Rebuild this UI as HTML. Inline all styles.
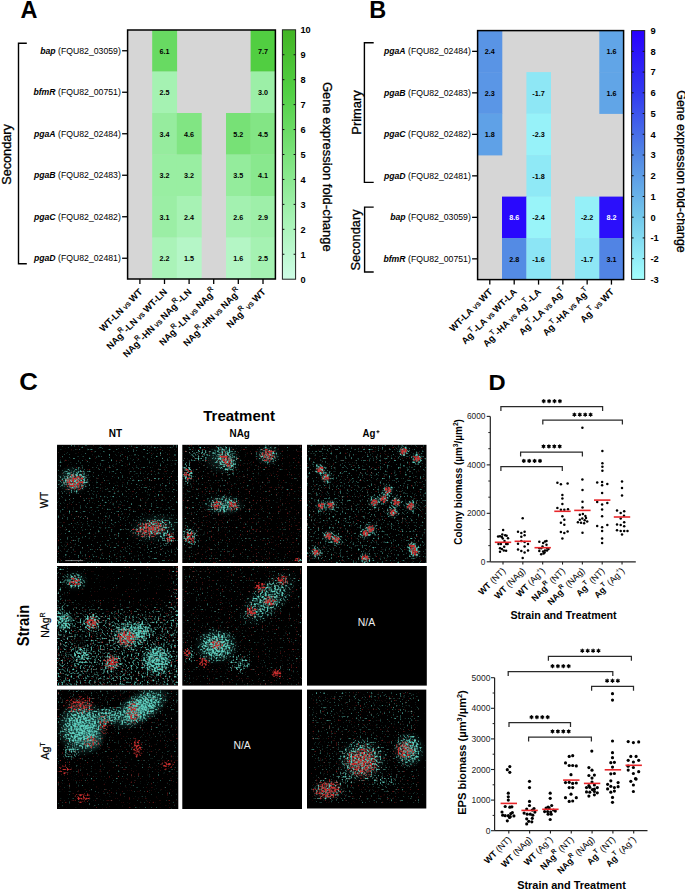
<!DOCTYPE html>
<html><head><meta charset="utf-8"><style>
html,body{margin:0;padding:0;background:#fff;}
svg{display:block;font-family:"Liberation Sans",sans-serif;}
</style></head><body>
<svg width="685" height="893" viewBox="0 0 685 893">
<rect width="685" height="893" fill="#fff"/>
<rect x="127.60" y="30.00" width="147.80" height="249.00" fill="#d6d6d6"/>
<rect x="152.20" y="30.00" width="24.90" height="41.80" fill="#68da62"/>
<rect x="250.60" y="30.00" width="25.10" height="41.80" fill="#51ce41"/>
<rect x="152.20" y="71.50" width="24.90" height="41.80" fill="#a5f2b2"/>
<rect x="250.60" y="71.50" width="25.10" height="41.80" fill="#9cefa7"/>
<rect x="152.20" y="113.00" width="24.90" height="41.80" fill="#96ec9e"/>
<rect x="176.80" y="113.00" width="24.90" height="41.80" fill="#81e583"/>
<rect x="226.00" y="113.00" width="24.90" height="41.80" fill="#77e176"/>
<rect x="250.60" y="113.00" width="25.10" height="41.80" fill="#83e585"/>
<rect x="152.20" y="154.50" width="24.90" height="41.80" fill="#99eea2"/>
<rect x="176.80" y="154.50" width="24.90" height="41.80" fill="#99eea2"/>
<rect x="226.00" y="154.50" width="24.90" height="41.80" fill="#94ec9c"/>
<rect x="250.60" y="154.50" width="25.10" height="41.80" fill="#89e88e"/>
<rect x="152.20" y="196.00" width="24.90" height="41.80" fill="#9beea5"/>
<rect x="176.80" y="196.00" width="24.90" height="41.80" fill="#a7f2b4"/>
<rect x="226.00" y="196.00" width="24.90" height="41.80" fill="#a3f1b0"/>
<rect x="250.60" y="196.00" width="25.10" height="41.80" fill="#9eefa9"/>
<rect x="152.20" y="237.50" width="24.90" height="41.80" fill="#aaf3b8"/>
<rect x="176.80" y="237.50" width="24.90" height="41.80" fill="#b5f6c7"/>
<rect x="226.00" y="237.50" width="24.90" height="41.80" fill="#b4f6c5"/>
<rect x="250.60" y="237.50" width="25.10" height="41.80" fill="#a5f2b2"/>
<text x="164.50" y="53.65" font-size="7.2" font-weight="bold" text-anchor="middle" fill="#000" >6.1</text>
<text x="263.00" y="53.65" font-size="7.2" font-weight="bold" text-anchor="middle" fill="#000" >7.7</text>
<text x="164.50" y="95.15" font-size="7.2" font-weight="bold" text-anchor="middle" fill="#000" >2.5</text>
<text x="263.00" y="95.15" font-size="7.2" font-weight="bold" text-anchor="middle" fill="#000" >3.0</text>
<text x="164.50" y="136.65" font-size="7.2" font-weight="bold" text-anchor="middle" fill="#000" >3.4</text>
<text x="189.10" y="136.65" font-size="7.2" font-weight="bold" text-anchor="middle" fill="#000" >4.6</text>
<text x="238.30" y="136.65" font-size="7.2" font-weight="bold" text-anchor="middle" fill="#000" >5.2</text>
<text x="263.00" y="136.65" font-size="7.2" font-weight="bold" text-anchor="middle" fill="#000" >4.5</text>
<text x="164.50" y="178.15" font-size="7.2" font-weight="bold" text-anchor="middle" fill="#000" >3.2</text>
<text x="189.10" y="178.15" font-size="7.2" font-weight="bold" text-anchor="middle" fill="#000" >3.2</text>
<text x="238.30" y="178.15" font-size="7.2" font-weight="bold" text-anchor="middle" fill="#000" >3.5</text>
<text x="263.00" y="178.15" font-size="7.2" font-weight="bold" text-anchor="middle" fill="#000" >4.1</text>
<text x="164.50" y="219.65" font-size="7.2" font-weight="bold" text-anchor="middle" fill="#000" >3.1</text>
<text x="189.10" y="219.65" font-size="7.2" font-weight="bold" text-anchor="middle" fill="#000" >2.4</text>
<text x="238.30" y="219.65" font-size="7.2" font-weight="bold" text-anchor="middle" fill="#000" >2.6</text>
<text x="263.00" y="219.65" font-size="7.2" font-weight="bold" text-anchor="middle" fill="#000" >2.9</text>
<text x="164.50" y="261.15" font-size="7.2" font-weight="bold" text-anchor="middle" fill="#000" >2.2</text>
<text x="189.10" y="261.15" font-size="7.2" font-weight="bold" text-anchor="middle" fill="#000" >1.5</text>
<text x="238.30" y="261.15" font-size="7.2" font-weight="bold" text-anchor="middle" fill="#000" >1.6</text>
<text x="263.00" y="261.15" font-size="7.2" font-weight="bold" text-anchor="middle" fill="#000" >2.5</text>
<rect x="127.60" y="30.00" width="147.80" height="249.00" fill="none" stroke="#000" stroke-width="1.5"/>
<line x1="122.10" y1="50.75" x2="127.60" y2="50.75" stroke="#000" stroke-width="1.3"/>
<text x="120.80" y="53.85" font-size="8.7" text-anchor="end"><tspan font-weight="bold" font-style="italic">bap</tspan> (FQU82_03059)</text>
<line x1="122.10" y1="92.25" x2="127.60" y2="92.25" stroke="#000" stroke-width="1.3"/>
<text x="120.80" y="95.35" font-size="8.7" text-anchor="end"><tspan font-weight="bold" font-style="italic">bfmR</tspan> (FQU82_00751)</text>
<line x1="122.10" y1="133.75" x2="127.60" y2="133.75" stroke="#000" stroke-width="1.3"/>
<text x="120.80" y="136.85" font-size="8.7" text-anchor="end"><tspan font-weight="bold" font-style="italic">pgaA</tspan> (FQU82_02484)</text>
<line x1="122.10" y1="175.25" x2="127.60" y2="175.25" stroke="#000" stroke-width="1.3"/>
<text x="120.80" y="178.35" font-size="8.7" text-anchor="end"><tspan font-weight="bold" font-style="italic">pgaB</tspan> (FQU82_02483)</text>
<line x1="122.10" y1="216.75" x2="127.60" y2="216.75" stroke="#000" stroke-width="1.3"/>
<text x="120.80" y="219.85" font-size="8.7" text-anchor="end"><tspan font-weight="bold" font-style="italic">pgaC</tspan> (FQU82_02482)</text>
<line x1="122.10" y1="258.25" x2="127.60" y2="258.25" stroke="#000" stroke-width="1.3"/>
<text x="120.80" y="261.35" font-size="8.7" text-anchor="end"><tspan font-weight="bold" font-style="italic">pgaD</tspan> (FQU82_02481)</text>
<line x1="139.90" y1="279.00" x2="139.90" y2="284.00" stroke="#000" stroke-width="1.3"/>
<line x1="164.50" y1="279.00" x2="164.50" y2="284.00" stroke="#000" stroke-width="1.3"/>
<line x1="189.10" y1="279.00" x2="189.10" y2="284.00" stroke="#000" stroke-width="1.3"/>
<line x1="213.70" y1="279.00" x2="213.70" y2="284.00" stroke="#000" stroke-width="1.3"/>
<line x1="238.30" y1="279.00" x2="238.30" y2="284.00" stroke="#000" stroke-width="1.3"/>
<line x1="263.00" y1="279.00" x2="263.00" y2="284.00" stroke="#000" stroke-width="1.3"/>
<defs><linearGradient id="g60" x1="0" y1="1" x2="0" y2="0"><stop offset="0.0000" stop-color="#cefde6"/><stop offset="0.2500" stop-color="#a5f2b2"/><stop offset="0.5000" stop-color="#7ae27a"/><stop offset="0.7500" stop-color="#52d044"/><stop offset="1.0000" stop-color="#42b424"/></linearGradient></defs>
<rect x="282.4" y="29.8" width="13.200000000000045" height="249.39999999999998" fill="url(#g60)" stroke="#222" stroke-width="1"/>
<text x="300.40" y="282.60" font-size="9.2" font-weight="bold" text-anchor="start" fill="#000" >0</text>
<line x1="282.40" y1="254.26" x2="284.40" y2="254.26" stroke="#111" stroke-width="1"/>
<line x1="293.60" y1="254.26" x2="295.60" y2="254.26" stroke="#111" stroke-width="1"/>
<text x="300.40" y="257.66" font-size="9.2" font-weight="bold" text-anchor="start" fill="#000" >1</text>
<line x1="282.40" y1="229.32" x2="284.40" y2="229.32" stroke="#111" stroke-width="1"/>
<line x1="293.60" y1="229.32" x2="295.60" y2="229.32" stroke="#111" stroke-width="1"/>
<text x="300.40" y="232.72" font-size="9.2" font-weight="bold" text-anchor="start" fill="#000" >2</text>
<line x1="282.40" y1="204.38" x2="284.40" y2="204.38" stroke="#111" stroke-width="1"/>
<line x1="293.60" y1="204.38" x2="295.60" y2="204.38" stroke="#111" stroke-width="1"/>
<text x="300.40" y="207.78" font-size="9.2" font-weight="bold" text-anchor="start" fill="#000" >3</text>
<line x1="282.40" y1="179.44" x2="284.40" y2="179.44" stroke="#111" stroke-width="1"/>
<line x1="293.60" y1="179.44" x2="295.60" y2="179.44" stroke="#111" stroke-width="1"/>
<text x="300.40" y="182.84" font-size="9.2" font-weight="bold" text-anchor="start" fill="#000" >4</text>
<line x1="282.40" y1="154.50" x2="284.40" y2="154.50" stroke="#111" stroke-width="1"/>
<line x1="293.60" y1="154.50" x2="295.60" y2="154.50" stroke="#111" stroke-width="1"/>
<text x="300.40" y="157.90" font-size="9.2" font-weight="bold" text-anchor="start" fill="#000" >5</text>
<line x1="282.40" y1="129.56" x2="284.40" y2="129.56" stroke="#111" stroke-width="1"/>
<line x1="293.60" y1="129.56" x2="295.60" y2="129.56" stroke="#111" stroke-width="1"/>
<text x="300.40" y="132.96" font-size="9.2" font-weight="bold" text-anchor="start" fill="#000" >6</text>
<line x1="282.40" y1="104.62" x2="284.40" y2="104.62" stroke="#111" stroke-width="1"/>
<line x1="293.60" y1="104.62" x2="295.60" y2="104.62" stroke="#111" stroke-width="1"/>
<text x="300.40" y="108.02" font-size="9.2" font-weight="bold" text-anchor="start" fill="#000" >7</text>
<line x1="282.40" y1="79.68" x2="284.40" y2="79.68" stroke="#111" stroke-width="1"/>
<line x1="293.60" y1="79.68" x2="295.60" y2="79.68" stroke="#111" stroke-width="1"/>
<text x="300.40" y="83.08" font-size="9.2" font-weight="bold" text-anchor="start" fill="#000" >8</text>
<line x1="282.40" y1="54.74" x2="284.40" y2="54.74" stroke="#111" stroke-width="1"/>
<line x1="293.60" y1="54.74" x2="295.60" y2="54.74" stroke="#111" stroke-width="1"/>
<text x="300.40" y="58.14" font-size="9.2" font-weight="bold" text-anchor="start" fill="#000" >9</text>
<text x="300.40" y="33.20" font-size="9.2" font-weight="bold" text-anchor="start" fill="#000" >10</text>
<text transform="translate(322.90,81.90) rotate(90)" font-size="12.8" stroke="#000" stroke-width="0.3" textLength="169.9" lengthAdjust="spacingAndGlyphs">Gene expression fold-change</text>
<rect x="477.60" y="30.60" width="146.00" height="249.00" fill="#d6d6d6"/>
<rect x="477.60" y="30.60" width="24.70" height="41.80" fill="#5994e5"/>
<rect x="599.30" y="30.60" width="24.60" height="41.80" fill="#61a5e7"/>
<rect x="477.60" y="72.10" width="24.70" height="41.80" fill="#5a96e6"/>
<rect x="526.40" y="72.10" width="24.60" height="41.80" fill="#8ee7f5"/>
<rect x="599.30" y="72.10" width="24.60" height="41.80" fill="#61a5e7"/>
<rect x="477.60" y="113.60" width="24.70" height="41.80" fill="#5fa1e7"/>
<rect x="526.40" y="113.60" width="24.60" height="41.80" fill="#97f2f9"/>
<rect x="526.40" y="155.10" width="24.60" height="41.80" fill="#8fe9f6"/>
<rect x="502.00" y="196.60" width="24.70" height="41.80" fill="#2908fd"/>
<rect x="526.40" y="196.60" width="24.60" height="41.80" fill="#99f4f9"/>
<rect x="575.00" y="196.60" width="24.60" height="41.80" fill="#95f0f8"/>
<rect x="599.30" y="196.60" width="24.60" height="41.80" fill="#2b0ffb"/>
<rect x="502.00" y="238.10" width="24.70" height="41.80" fill="#548be4"/>
<rect x="526.40" y="238.10" width="24.60" height="41.80" fill="#8ce5f5"/>
<rect x="575.00" y="238.10" width="24.60" height="41.80" fill="#8ee7f5"/>
<rect x="599.30" y="238.10" width="24.60" height="41.80" fill="#5184e4"/>
<text x="489.80" y="54.25" font-size="7.2" font-weight="bold" text-anchor="middle" fill="#000" >2.4</text>
<text x="611.45" y="54.25" font-size="7.2" font-weight="bold" text-anchor="middle" fill="#000" >1.6</text>
<text x="489.80" y="95.75" font-size="7.2" font-weight="bold" text-anchor="middle" fill="#000" >2.3</text>
<text x="538.55" y="95.75" font-size="7.2" font-weight="bold" text-anchor="middle" fill="#000" >-1.7</text>
<text x="611.45" y="95.75" font-size="7.2" font-weight="bold" text-anchor="middle" fill="#000" >1.6</text>
<text x="489.80" y="137.25" font-size="7.2" font-weight="bold" text-anchor="middle" fill="#000" >1.8</text>
<text x="538.55" y="137.25" font-size="7.2" font-weight="bold" text-anchor="middle" fill="#000" >-2.3</text>
<text x="538.55" y="178.75" font-size="7.2" font-weight="bold" text-anchor="middle" fill="#000" >-1.8</text>
<text x="514.20" y="220.25" font-size="7.2" font-weight="bold" text-anchor="middle" fill="#fff" >8.6</text>
<text x="538.55" y="220.25" font-size="7.2" font-weight="bold" text-anchor="middle" fill="#000" >-2.4</text>
<text x="587.15" y="220.25" font-size="7.2" font-weight="bold" text-anchor="middle" fill="#000" >-2.2</text>
<text x="611.45" y="220.25" font-size="7.2" font-weight="bold" text-anchor="middle" fill="#fff" >8.2</text>
<text x="514.20" y="261.75" font-size="7.2" font-weight="bold" text-anchor="middle" fill="#000" >2.8</text>
<text x="538.55" y="261.75" font-size="7.2" font-weight="bold" text-anchor="middle" fill="#000" >-1.6</text>
<text x="587.15" y="261.75" font-size="7.2" font-weight="bold" text-anchor="middle" fill="#000" >-1.7</text>
<text x="611.45" y="261.75" font-size="7.2" font-weight="bold" text-anchor="middle" fill="#000" >3.1</text>
<rect x="477.60" y="30.60" width="146.00" height="249.00" fill="none" stroke="#000" stroke-width="1.5"/>
<line x1="472.10" y1="51.35" x2="477.60" y2="51.35" stroke="#000" stroke-width="1.3"/>
<text x="470.80" y="54.45" font-size="8.7" text-anchor="end"><tspan font-weight="bold" font-style="italic">pgaA</tspan> (FQU82_02484)</text>
<line x1="472.10" y1="92.85" x2="477.60" y2="92.85" stroke="#000" stroke-width="1.3"/>
<text x="470.80" y="95.95" font-size="8.7" text-anchor="end"><tspan font-weight="bold" font-style="italic">pgaB</tspan> (FQU82_02483)</text>
<line x1="472.10" y1="134.35" x2="477.60" y2="134.35" stroke="#000" stroke-width="1.3"/>
<text x="470.80" y="137.45" font-size="8.7" text-anchor="end"><tspan font-weight="bold" font-style="italic">pgaC</tspan> (FQU82_02482)</text>
<line x1="472.10" y1="175.85" x2="477.60" y2="175.85" stroke="#000" stroke-width="1.3"/>
<text x="470.80" y="178.95" font-size="8.7" text-anchor="end"><tspan font-weight="bold" font-style="italic">pgaD</tspan> (FQU82_02481)</text>
<line x1="472.10" y1="217.35" x2="477.60" y2="217.35" stroke="#000" stroke-width="1.3"/>
<text x="470.80" y="220.45" font-size="8.7" text-anchor="end"><tspan font-weight="bold" font-style="italic">bap</tspan> (FQU82_03059)</text>
<line x1="472.10" y1="258.85" x2="477.60" y2="258.85" stroke="#000" stroke-width="1.3"/>
<text x="470.80" y="261.95" font-size="8.7" text-anchor="end"><tspan font-weight="bold" font-style="italic">bfmR</tspan> (FQU82_00751)</text>
<line x1="489.80" y1="279.60" x2="489.80" y2="284.60" stroke="#000" stroke-width="1.3"/>
<line x1="514.20" y1="279.60" x2="514.20" y2="284.60" stroke="#000" stroke-width="1.3"/>
<line x1="538.55" y1="279.60" x2="538.55" y2="284.60" stroke="#000" stroke-width="1.3"/>
<line x1="562.85" y1="279.60" x2="562.85" y2="284.60" stroke="#000" stroke-width="1.3"/>
<line x1="587.15" y1="279.60" x2="587.15" y2="284.60" stroke="#000" stroke-width="1.3"/>
<line x1="611.45" y1="279.60" x2="611.45" y2="284.60" stroke="#000" stroke-width="1.3"/>
<defs><linearGradient id="g144" x1="0" y1="1" x2="0" y2="0"><stop offset="0.0000" stop-color="#a2fffd"/><stop offset="0.2500" stop-color="#73c8eb"/><stop offset="0.5000" stop-color="#5287e4"/><stop offset="0.7500" stop-color="#323af0"/><stop offset="1.0000" stop-color="#2800ff"/></linearGradient></defs>
<rect x="631.6" y="30.6" width="13.100000000000023" height="248.79999999999998" fill="url(#g144)" stroke="#222" stroke-width="1"/>
<text x="650.50" y="282.80" font-size="9.4" font-weight="bold" text-anchor="start" fill="#000" >-3</text>
<line x1="631.60" y1="258.67" x2="633.60" y2="258.67" stroke="#111" stroke-width="1"/>
<line x1="642.70" y1="258.67" x2="644.70" y2="258.67" stroke="#111" stroke-width="1"/>
<text x="650.50" y="262.07" font-size="9.4" font-weight="bold" text-anchor="start" fill="#000" >-2</text>
<line x1="631.60" y1="237.93" x2="633.60" y2="237.93" stroke="#111" stroke-width="1"/>
<line x1="642.70" y1="237.93" x2="644.70" y2="237.93" stroke="#111" stroke-width="1"/>
<text x="650.50" y="241.33" font-size="9.4" font-weight="bold" text-anchor="start" fill="#000" >-1</text>
<line x1="631.60" y1="217.20" x2="633.60" y2="217.20" stroke="#111" stroke-width="1"/>
<line x1="642.70" y1="217.20" x2="644.70" y2="217.20" stroke="#111" stroke-width="1"/>
<text x="650.50" y="220.60" font-size="9.4" font-weight="bold" text-anchor="start" fill="#000" >0</text>
<line x1="631.60" y1="196.47" x2="633.60" y2="196.47" stroke="#111" stroke-width="1"/>
<line x1="642.70" y1="196.47" x2="644.70" y2="196.47" stroke="#111" stroke-width="1"/>
<text x="650.50" y="199.87" font-size="9.4" font-weight="bold" text-anchor="start" fill="#000" >1</text>
<line x1="631.60" y1="175.73" x2="633.60" y2="175.73" stroke="#111" stroke-width="1"/>
<line x1="642.70" y1="175.73" x2="644.70" y2="175.73" stroke="#111" stroke-width="1"/>
<text x="650.50" y="179.13" font-size="9.4" font-weight="bold" text-anchor="start" fill="#000" >2</text>
<line x1="631.60" y1="155.00" x2="633.60" y2="155.00" stroke="#111" stroke-width="1"/>
<line x1="642.70" y1="155.00" x2="644.70" y2="155.00" stroke="#111" stroke-width="1"/>
<text x="650.50" y="158.40" font-size="9.4" font-weight="bold" text-anchor="start" fill="#000" >3</text>
<line x1="631.60" y1="134.27" x2="633.60" y2="134.27" stroke="#111" stroke-width="1"/>
<line x1="642.70" y1="134.27" x2="644.70" y2="134.27" stroke="#111" stroke-width="1"/>
<text x="650.50" y="137.67" font-size="9.4" font-weight="bold" text-anchor="start" fill="#000" >4</text>
<line x1="631.60" y1="113.53" x2="633.60" y2="113.53" stroke="#111" stroke-width="1"/>
<line x1="642.70" y1="113.53" x2="644.70" y2="113.53" stroke="#111" stroke-width="1"/>
<text x="650.50" y="116.93" font-size="9.4" font-weight="bold" text-anchor="start" fill="#000" >5</text>
<line x1="631.60" y1="92.80" x2="633.60" y2="92.80" stroke="#111" stroke-width="1"/>
<line x1="642.70" y1="92.80" x2="644.70" y2="92.80" stroke="#111" stroke-width="1"/>
<text x="650.50" y="96.20" font-size="9.4" font-weight="bold" text-anchor="start" fill="#000" >6</text>
<line x1="631.60" y1="72.07" x2="633.60" y2="72.07" stroke="#111" stroke-width="1"/>
<line x1="642.70" y1="72.07" x2="644.70" y2="72.07" stroke="#111" stroke-width="1"/>
<text x="650.50" y="75.47" font-size="9.4" font-weight="bold" text-anchor="start" fill="#000" >7</text>
<line x1="631.60" y1="51.33" x2="633.60" y2="51.33" stroke="#111" stroke-width="1"/>
<line x1="642.70" y1="51.33" x2="644.70" y2="51.33" stroke="#111" stroke-width="1"/>
<text x="650.50" y="54.73" font-size="9.4" font-weight="bold" text-anchor="start" fill="#000" >8</text>
<text x="650.50" y="34.00" font-size="9.4" font-weight="bold" text-anchor="start" fill="#000" >9</text>
<text transform="translate(676.60,90.20) rotate(90)" font-size="12.8" stroke="#000" stroke-width="0.3" textLength="162.6" lengthAdjust="spacingAndGlyphs">Gene expression fold-change</text>
<path d="M26.80,43.30 H18.50 V263.70 H26.80" fill="none" stroke="#000" stroke-width="1.4"/>
<text transform="translate(11.2,154.5) rotate(-90)" font-size="12.7" stroke="#000" stroke-width="0.3" text-anchor="middle">Secondary</text>
<path d="M373.70,42.70 H364.40 V182.40 H373.70" fill="none" stroke="#000" stroke-width="1.4"/>
<text transform="translate(360.8,112.5) rotate(-90)" font-size="12.9" stroke="#000" stroke-width="0.3" text-anchor="middle">Primary</text>
<path d="M373.70,207.10 H364.60 V272.00 H373.70" fill="none" stroke="#000" stroke-width="1.4"/>
<text transform="translate(360.4,240) rotate(-90)" font-size="12.8" stroke="#000" stroke-width="0.3" text-anchor="middle">Secondary</text>
<text x="20.60" y="17.90" font-size="23.5" font-weight="bold" text-anchor="start" fill="#000" >A</text>
<text x="369.30" y="17.90" font-size="23.5" font-weight="bold" text-anchor="start" fill="#000" >B</text>
<text transform="translate(19.3,390.1) scale(1.1,1)" font-size="23.4" font-weight="bold">C</text>
<text transform="translate(488.6,389.6) scale(1.06,1)" font-size="22.4" font-weight="bold">D</text>
<text transform="translate(143.10,292.50) rotate(-45)" font-size="9.3" text-anchor="end"><tspan font-weight="bold">WT-LN</tspan><tspan font-size="7.91" stroke="#000" stroke-width="0.2"> vs </tspan><tspan font-weight="bold">WT</tspan></text>
<text transform="translate(493.00,292.50) rotate(-45)" font-size="9.3" text-anchor="end"><tspan font-weight="bold">WT-LA</tspan><tspan font-size="7.91" stroke="#000" stroke-width="0.2"> vs </tspan><tspan font-weight="bold">WT</tspan></text>
<text transform="translate(167.70,292.50) rotate(-45)" font-size="9.3" text-anchor="end"><tspan font-weight="bold">NAg</tspan><tspan font-size="6.98" stroke="#000" stroke-width="0.25" dy="-4.65">R</tspan><tspan font-weight="bold" dy="4.65">-LN</tspan><tspan font-size="7.91" stroke="#000" stroke-width="0.2"> vs </tspan><tspan font-weight="bold">WT-LN</tspan></text>
<text transform="translate(517.40,292.50) rotate(-45)" font-size="9.3" text-anchor="end"><tspan font-weight="bold">Ag</tspan><tspan font-size="6.98" stroke="#000" stroke-width="0.25" dy="-4.65">T</tspan><tspan font-weight="bold" dy="4.65">-LA</tspan><tspan font-size="7.91" stroke="#000" stroke-width="0.2"> vs </tspan><tspan font-weight="bold">WT-LA</tspan></text>
<text transform="translate(192.30,292.50) rotate(-45)" font-size="9.3" text-anchor="end"><tspan font-weight="bold">NAg</tspan><tspan font-size="6.98" stroke="#000" stroke-width="0.25" dy="-4.65">R</tspan><tspan font-weight="bold" dy="4.65">-HN</tspan><tspan font-size="7.91" stroke="#000" stroke-width="0.2"> vs </tspan><tspan font-weight="bold">NAg</tspan><tspan font-size="6.98" stroke="#000" stroke-width="0.25" dy="-4.65">R</tspan><tspan font-weight="bold" dy="4.65">-LN</tspan></text>
<text transform="translate(541.75,292.50) rotate(-45)" font-size="9.3" text-anchor="end"><tspan font-weight="bold">Ag</tspan><tspan font-size="6.98" stroke="#000" stroke-width="0.25" dy="-4.65">T</tspan><tspan font-weight="bold" dy="4.65">-HA</tspan><tspan font-size="7.91" stroke="#000" stroke-width="0.2"> vs </tspan><tspan font-weight="bold">Ag</tspan><tspan font-size="6.98" stroke="#000" stroke-width="0.25" dy="-4.65">T</tspan><tspan font-weight="bold" dy="4.65">-LA</tspan></text>
<text transform="translate(216.90,292.50) rotate(-45)" font-size="9.3" text-anchor="end"><tspan font-weight="bold">NAg</tspan><tspan font-size="6.98" stroke="#000" stroke-width="0.25" dy="-4.65">R</tspan><tspan font-weight="bold" dy="4.65">-LN</tspan><tspan font-size="7.91" stroke="#000" stroke-width="0.2"> vs </tspan><tspan font-weight="bold">NAg</tspan><tspan font-size="6.98" stroke="#000" stroke-width="0.25" dy="-4.65">R</tspan></text>
<text transform="translate(566.05,292.50) rotate(-45)" font-size="9.3" text-anchor="end"><tspan font-weight="bold">Ag</tspan><tspan font-size="6.98" stroke="#000" stroke-width="0.25" dy="-4.65">T</tspan><tspan font-weight="bold" dy="4.65">-LA</tspan><tspan font-size="7.91" stroke="#000" stroke-width="0.2"> vs </tspan><tspan font-weight="bold">Ag</tspan><tspan font-size="6.98" stroke="#000" stroke-width="0.25" dy="-4.65">T</tspan></text>
<text transform="translate(241.50,292.50) rotate(-45)" font-size="9.3" text-anchor="end"><tspan font-weight="bold">NAg</tspan><tspan font-size="6.98" stroke="#000" stroke-width="0.25" dy="-4.65">R</tspan><tspan font-weight="bold" dy="4.65">-HN</tspan><tspan font-size="7.91" stroke="#000" stroke-width="0.2"> vs </tspan><tspan font-weight="bold">NAg</tspan><tspan font-size="6.98" stroke="#000" stroke-width="0.25" dy="-4.65">R</tspan></text>
<text transform="translate(590.35,292.50) rotate(-45)" font-size="9.3" text-anchor="end"><tspan font-weight="bold">Ag</tspan><tspan font-size="6.98" stroke="#000" stroke-width="0.25" dy="-4.65">T</tspan><tspan font-weight="bold" dy="4.65">-HA</tspan><tspan font-size="7.91" stroke="#000" stroke-width="0.2"> vs </tspan><tspan font-weight="bold">Ag</tspan><tspan font-size="6.98" stroke="#000" stroke-width="0.25" dy="-4.65">T</tspan></text>
<text transform="translate(266.20,292.50) rotate(-45)" font-size="9.3" text-anchor="end"><tspan font-weight="bold">NAg</tspan><tspan font-size="6.98" stroke="#000" stroke-width="0.25" dy="-4.65">R</tspan><tspan font-size="7.91" stroke="#000" stroke-width="0.2" dy="4.65"> vs </tspan><tspan font-weight="bold">WT</tspan></text>
<text transform="translate(614.65,292.50) rotate(-45)" font-size="9.3" text-anchor="end"><tspan font-weight="bold">Ag</tspan><tspan font-size="6.98" stroke="#000" stroke-width="0.25" dy="-4.65">T</tspan><tspan font-size="7.91" stroke="#000" stroke-width="0.2" dy="4.65"> vs </tspan><tspan font-weight="bold">WT</tspan></text>

<defs><filter id="soft" x="-5%" y="-5%" width="110%" height="110%"><feGaussianBlur stdDeviation="0.35"/></filter></defs>
<defs>
<filter id="spkC" x="0" y="0" width="100%" height="100%" color-interpolation-filters="sRGB">
  <feTurbulence type="fractalNoise" baseFrequency="0.55" numOctaves="1" seed="3" result="n"/>
  <feColorMatrix in="n" type="matrix" values="0 0 0 0 0  0 0 0 0 0  0 0 0 0 0  1 0 0 0 0" result="na"/>
  <feComposite in="SourceGraphic" in2="na" operator="arithmetic" k1="0" k2="0.45" k3="1" k4="-0.72" result="sum"/>
  <feComponentTransfer in="sum" result="th"><feFuncA type="linear" slope="4" intercept="0"/></feComponentTransfer>
  <feFlood flood-color="#5ccbbb"/>
  <feComposite in2="th" operator="in"/><feGaussianBlur stdDeviation="0.3"/>
</filter>
<filter id="spkR" x="0" y="0" width="100%" height="100%" color-interpolation-filters="sRGB">
  <feTurbulence type="fractalNoise" baseFrequency="0.55" numOctaves="1" seed="11" result="n"/>
  <feColorMatrix in="n" type="matrix" values="0 0 0 0 0  0 0 0 0 0  0 0 0 0 0  1 0 0 0 0" result="na"/>
  <feComposite in="SourceGraphic" in2="na" operator="arithmetic" k1="0" k2="0.45" k3="1" k4="-0.72" result="sum"/>
  <feComponentTransfer in="sum" result="th"><feFuncA type="linear" slope="4" intercept="0"/></feComponentTransfer>
  <feFlood flood-color="#cc2e2e"/>
  <feComposite in2="th" operator="in"/><feGaussianBlur stdDeviation="0.3"/>
</filter>
<radialGradient id="bk"><stop offset="0" stop-color="#000" stop-opacity="0.9"/><stop offset="0.6" stop-color="#000" stop-opacity="0.6"/><stop offset="1" stop-color="#000" stop-opacity="0"/></radialGradient>
<radialGradient id="wg"><stop offset="0" stop-color="#fff" stop-opacity="1"/><stop offset="0.5" stop-color="#fff" stop-opacity="0.8"/><stop offset="1" stop-color="#fff" stop-opacity="0"/></radialGradient>
<radialGradient id="cg"><stop offset="0" stop-color="#3aa096" stop-opacity="1"/><stop offset="0.6" stop-color="#3aa096" stop-opacity="0.5"/><stop offset="1" stop-color="#3aa096" stop-opacity="0"/></radialGradient>
<radialGradient id="rgl"><stop offset="0" stop-color="#c03030" stop-opacity="1"/><stop offset="0.6" stop-color="#c03030" stop-opacity="0.5"/><stop offset="1" stop-color="#c03030" stop-opacity="0"/></radialGradient>
</defs>
<clipPath id="clip00"><rect x="57.0" y="444.8" width="121.0" height="118.2"/></clipPath>
<rect x="57.0" y="444.8" width="121.0" height="118.2" fill="#000"/>
<g clip-path="url(#clip00)">
<ellipse cx="73" cy="480" rx="18" ry="15" fill="url(#cg)" opacity="0.3"/>
<ellipse cx="154" cy="528" rx="27" ry="15" fill="url(#cg)" opacity="0.22" transform="rotate(-10 154 528)"/>
<ellipse cx="75" cy="482" rx="11" ry="9" fill="url(#rgl)" opacity="0.25"/>
<ellipse cx="152" cy="529" rx="18" ry="8" fill="url(#rgl)" opacity="0.25" transform="rotate(-10 152 529)"/>
<g filter="url(#spkC)"><rect x="57.0" y="444.8" width="121.0" height="118.2" fill="#fff" fill-opacity="0.22"/><ellipse cx="75" cy="480" rx="18" ry="14" fill="url(#wg)" opacity="0.78"/><ellipse cx="153" cy="528" rx="24" ry="12" fill="url(#wg)" opacity="0.68" transform="rotate(-10 153 528)"/><ellipse cx="168" cy="538" rx="10" ry="9" fill="url(#wg)" opacity="0.6"/></g>
<g filter="url(#spkR)"><rect x="57.0" y="444.8" width="121.0" height="118.2" fill="#fff" fill-opacity="0.07"/><ellipse cx="75" cy="482" rx="15" ry="12" fill="url(#wg)" opacity="0.8"/><ellipse cx="150" cy="529" rx="22" ry="11" fill="url(#wg)" opacity="0.78" transform="rotate(-10 150 529)"/><ellipse cx="170" cy="538" rx="7" ry="7" fill="url(#wg)" opacity="0.75"/></g>
</g>
<line x1="65.2" y1="560.6" x2="83.2" y2="560.6" stroke="#999" stroke-width="0.8"/>
<clipPath id="clip01"><rect x="182.3" y="444.8" width="119.7" height="118.2"/></clipPath>
<rect x="182.3" y="444.8" width="119.7" height="118.2" fill="#000"/>
<g clip-path="url(#clip01)">
<ellipse cx="222" cy="459" rx="19" ry="15" fill="url(#cg)" opacity="0.25"/>
<ellipse cx="224" cy="505" rx="22" ry="11" fill="url(#cg)" opacity="0.22"/>
<ellipse cx="268" cy="455" rx="14" ry="11" fill="url(#cg)" opacity="0.2"/>
<ellipse cx="225" cy="460" rx="10" ry="8" fill="url(#rgl)" opacity="0.25"/>
<ellipse cx="216.5" cy="505" rx="5" ry="4" fill="url(#rgl)" opacity="0.3"/>
<ellipse cx="232.9" cy="505" rx="5" ry="4" fill="url(#rgl)" opacity="0.3"/>
<ellipse cx="268" cy="455" rx="7" ry="6" fill="url(#rgl)" opacity="0.25"/>
<g filter="url(#spkC)"><rect x="182.3" y="444.8" width="119.7" height="118.2" fill="#fff" fill-opacity="0.08"/><defs><linearGradient id="lgd1" x1="0" y1="0" x2="1" y2="0"><stop offset="0" stop-color="#fff" stop-opacity="0.14"/><stop offset="1" stop-color="#fff" stop-opacity="0.02"/></linearGradient></defs><rect x="182.3" y="444.8" width="119.7" height="118.2" fill="url(#lgd1)"/><ellipse cx="200" cy="455" rx="16" ry="10" fill="url(#wg)" opacity="0.45"/><ellipse cx="226" cy="459" rx="20" ry="14" fill="url(#wg)" opacity="0.8" transform="rotate(60 226 459)"/><ellipse cx="268" cy="455" rx="14" ry="11" fill="url(#wg)" opacity="0.75"/><ellipse cx="187.3" cy="474" rx="8" ry="13" fill="url(#wg)" opacity="0.72"/><ellipse cx="224" cy="505" rx="22" ry="11" fill="url(#wg)" opacity="0.75"/><ellipse cx="190" cy="536" rx="9" ry="12" fill="url(#wg)" opacity="0.74"/><ellipse cx="299" cy="560" rx="5" ry="3" fill="url(#wg)" opacity="0.6"/></g>
<g filter="url(#spkR)"><rect x="182.3" y="444.8" width="119.7" height="118.2" fill="#fff" fill-opacity="0.14"/><ellipse cx="226" cy="460" rx="13" ry="6" fill="url(#wg)" opacity="0.8" transform="rotate(55 226 460)"/><ellipse cx="268" cy="455" rx="10" ry="8" fill="url(#wg)" opacity="0.8"/><ellipse cx="187.3" cy="474" rx="5" ry="8" fill="url(#wg)" opacity="0.78"/><ellipse cx="216.5" cy="505" rx="7" ry="6" fill="url(#wg)" opacity="0.82"/><ellipse cx="232.9" cy="505" rx="7" ry="6" fill="url(#wg)" opacity="0.82"/><ellipse cx="190" cy="537" rx="7" ry="8" fill="url(#wg)" opacity="0.78"/><ellipse cx="298" cy="560" rx="5" ry="3" fill="url(#wg)" opacity="0.8"/></g>
</g>
<clipPath id="clip02"><rect x="307.0" y="444.8" width="119.5" height="118.2"/></clipPath>
<rect x="307.0" y="444.8" width="119.5" height="118.2" fill="#000"/>
<g clip-path="url(#clip02)">
<ellipse cx="403.5" cy="451.2" rx="7" ry="7" fill="url(#cg)" opacity="0.2"/>
<ellipse cx="417.2" cy="458.5" rx="7" ry="7" fill="url(#cg)" opacity="0.2"/>
<ellipse cx="320.5" cy="469.5" rx="7" ry="7" fill="url(#cg)" opacity="0.2"/>
<ellipse cx="326" cy="477.7" rx="7" ry="7" fill="url(#cg)" opacity="0.2"/>
<ellipse cx="330.5" cy="505" rx="7" ry="7" fill="url(#cg)" opacity="0.2"/>
<ellipse cx="321.4" cy="506" rx="7" ry="7" fill="url(#cg)" opacity="0.2"/>
<ellipse cx="374.3" cy="502.3" rx="7" ry="7" fill="url(#cg)" opacity="0.2"/>
<ellipse cx="388" cy="490.4" rx="7" ry="7" fill="url(#cg)" opacity="0.2"/>
<ellipse cx="392.6" cy="512.3" rx="7" ry="7" fill="url(#cg)" opacity="0.2"/>
<ellipse cx="396.2" cy="502.3" rx="7" ry="7" fill="url(#cg)" opacity="0.2"/>
<ellipse cx="410.8" cy="506" rx="7" ry="7" fill="url(#cg)" opacity="0.2"/>
<ellipse cx="383.5" cy="498.7" rx="7" ry="7" fill="url(#cg)" opacity="0.2"/>
<ellipse cx="370.7" cy="528.8" rx="7" ry="7" fill="url(#cg)" opacity="0.2"/>
<ellipse cx="365.2" cy="533.3" rx="7" ry="7" fill="url(#cg)" opacity="0.2"/>
<ellipse cx="336" cy="539.7" rx="7" ry="7" fill="url(#cg)" opacity="0.2"/>
<ellipse cx="328.7" cy="536" rx="7" ry="7" fill="url(#cg)" opacity="0.2"/>
<ellipse cx="412.7" cy="547" rx="7" ry="7" fill="url(#cg)" opacity="0.2"/>
<ellipse cx="414.5" cy="552.5" rx="7" ry="7" fill="url(#cg)" opacity="0.2"/>
<ellipse cx="316" cy="552.5" rx="7" ry="7" fill="url(#cg)" opacity="0.2"/>
<ellipse cx="365.2" cy="558" rx="7" ry="7" fill="url(#cg)" opacity="0.2"/>
<ellipse cx="403.5" cy="451.2" rx="4" ry="4" fill="url(#rgl)" opacity="0.45"/>
<ellipse cx="417.2" cy="458.5" rx="4" ry="4" fill="url(#rgl)" opacity="0.45"/>
<ellipse cx="320.5" cy="469.5" rx="4" ry="4" fill="url(#rgl)" opacity="0.45"/>
<ellipse cx="326" cy="477.7" rx="4" ry="4" fill="url(#rgl)" opacity="0.45"/>
<ellipse cx="330.5" cy="505" rx="4" ry="4" fill="url(#rgl)" opacity="0.45"/>
<ellipse cx="321.4" cy="506" rx="4" ry="4" fill="url(#rgl)" opacity="0.45"/>
<ellipse cx="374.3" cy="502.3" rx="4" ry="4" fill="url(#rgl)" opacity="0.45"/>
<ellipse cx="388" cy="490.4" rx="4" ry="4" fill="url(#rgl)" opacity="0.45"/>
<ellipse cx="392.6" cy="512.3" rx="4" ry="4" fill="url(#rgl)" opacity="0.45"/>
<ellipse cx="396.2" cy="502.3" rx="4" ry="4" fill="url(#rgl)" opacity="0.45"/>
<ellipse cx="410.8" cy="506" rx="4" ry="4" fill="url(#rgl)" opacity="0.45"/>
<ellipse cx="383.5" cy="498.7" rx="4" ry="4" fill="url(#rgl)" opacity="0.45"/>
<ellipse cx="370.7" cy="528.8" rx="4" ry="4" fill="url(#rgl)" opacity="0.45"/>
<ellipse cx="365.2" cy="533.3" rx="4" ry="4" fill="url(#rgl)" opacity="0.45"/>
<ellipse cx="336" cy="539.7" rx="4" ry="4" fill="url(#rgl)" opacity="0.45"/>
<ellipse cx="328.7" cy="536" rx="4" ry="4" fill="url(#rgl)" opacity="0.45"/>
<ellipse cx="412.7" cy="547" rx="4" ry="4" fill="url(#rgl)" opacity="0.45"/>
<ellipse cx="414.5" cy="552.5" rx="4" ry="4" fill="url(#rgl)" opacity="0.45"/>
<ellipse cx="316" cy="552.5" rx="4" ry="4" fill="url(#rgl)" opacity="0.45"/>
<ellipse cx="365.2" cy="558" rx="4" ry="4" fill="url(#rgl)" opacity="0.45"/>
<g filter="url(#spkC)"><rect x="307.0" y="444.8" width="119.5" height="118.2" fill="#fff" fill-opacity="0.27"/><ellipse cx="403.5" cy="451.2" rx="7.5" ry="7.5" fill="url(#wg)" opacity="0.6"/><ellipse cx="417.2" cy="458.5" rx="7.5" ry="7.5" fill="url(#wg)" opacity="0.6"/><ellipse cx="320.5" cy="469.5" rx="7.5" ry="7.5" fill="url(#wg)" opacity="0.6"/><ellipse cx="326" cy="477.7" rx="7.5" ry="7.5" fill="url(#wg)" opacity="0.6"/><ellipse cx="330.5" cy="505" rx="7.5" ry="7.5" fill="url(#wg)" opacity="0.6"/><ellipse cx="321.4" cy="506" rx="7.5" ry="7.5" fill="url(#wg)" opacity="0.6"/><ellipse cx="374.3" cy="502.3" rx="7.5" ry="7.5" fill="url(#wg)" opacity="0.6"/><ellipse cx="388" cy="490.4" rx="7.5" ry="7.5" fill="url(#wg)" opacity="0.6"/><ellipse cx="392.6" cy="512.3" rx="7.5" ry="7.5" fill="url(#wg)" opacity="0.6"/><ellipse cx="396.2" cy="502.3" rx="7.5" ry="7.5" fill="url(#wg)" opacity="0.6"/><ellipse cx="410.8" cy="506" rx="7.5" ry="7.5" fill="url(#wg)" opacity="0.6"/><ellipse cx="383.5" cy="498.7" rx="7.5" ry="7.5" fill="url(#wg)" opacity="0.6"/><ellipse cx="370.7" cy="528.8" rx="7.5" ry="7.5" fill="url(#wg)" opacity="0.6"/><ellipse cx="365.2" cy="533.3" rx="7.5" ry="7.5" fill="url(#wg)" opacity="0.6"/><ellipse cx="336" cy="539.7" rx="7.5" ry="7.5" fill="url(#wg)" opacity="0.6"/><ellipse cx="328.7" cy="536" rx="7.5" ry="7.5" fill="url(#wg)" opacity="0.6"/><ellipse cx="412.7" cy="547" rx="7.5" ry="7.5" fill="url(#wg)" opacity="0.6"/><ellipse cx="414.5" cy="552.5" rx="7.5" ry="7.5" fill="url(#wg)" opacity="0.6"/><ellipse cx="316" cy="552.5" rx="7.5" ry="7.5" fill="url(#wg)" opacity="0.6"/><ellipse cx="365.2" cy="558" rx="7.5" ry="7.5" fill="url(#wg)" opacity="0.6"/></g>
<g filter="url(#spkR)"><rect x="307.0" y="444.8" width="119.5" height="118.2" fill="#fff" fill-opacity="0.1"/><ellipse cx="403.5" cy="451.2" rx="5" ry="5" fill="url(#wg)" opacity="0.95"/><ellipse cx="417.2" cy="458.5" rx="5" ry="5" fill="url(#wg)" opacity="0.95"/><ellipse cx="320.5" cy="469.5" rx="5" ry="5" fill="url(#wg)" opacity="0.95"/><ellipse cx="326" cy="477.7" rx="5" ry="5" fill="url(#wg)" opacity="0.95"/><ellipse cx="330.5" cy="505" rx="5" ry="5" fill="url(#wg)" opacity="0.95"/><ellipse cx="321.4" cy="506" rx="5" ry="5" fill="url(#wg)" opacity="0.95"/><ellipse cx="374.3" cy="502.3" rx="5" ry="5" fill="url(#wg)" opacity="0.95"/><ellipse cx="388" cy="490.4" rx="5" ry="5" fill="url(#wg)" opacity="0.95"/><ellipse cx="392.6" cy="512.3" rx="5" ry="5" fill="url(#wg)" opacity="0.95"/><ellipse cx="396.2" cy="502.3" rx="5" ry="5" fill="url(#wg)" opacity="0.95"/><ellipse cx="410.8" cy="506" rx="5" ry="5" fill="url(#wg)" opacity="0.95"/><ellipse cx="383.5" cy="498.7" rx="5" ry="5" fill="url(#wg)" opacity="0.95"/><ellipse cx="370.7" cy="528.8" rx="5" ry="5" fill="url(#wg)" opacity="0.95"/><ellipse cx="365.2" cy="533.3" rx="5" ry="5" fill="url(#wg)" opacity="0.95"/><ellipse cx="336" cy="539.7" rx="5" ry="5" fill="url(#wg)" opacity="0.95"/><ellipse cx="328.7" cy="536" rx="5" ry="5" fill="url(#wg)" opacity="0.95"/><ellipse cx="412.7" cy="547" rx="5" ry="5" fill="url(#wg)" opacity="0.95"/><ellipse cx="414.5" cy="552.5" rx="5" ry="5" fill="url(#wg)" opacity="0.95"/><ellipse cx="316" cy="552.5" rx="5" ry="5" fill="url(#wg)" opacity="0.95"/><ellipse cx="365.2" cy="558" rx="5" ry="5" fill="url(#wg)" opacity="0.95"/></g>
</g>
<clipPath id="clip10"><rect x="57.0" y="566.0" width="121.0" height="119.6"/></clipPath>
<rect x="57.0" y="566.0" width="121.0" height="119.6" fill="#000"/>
<g clip-path="url(#clip10)">
<ellipse cx="129" cy="635" rx="19" ry="16" fill="url(#cg)" opacity="0.2"/>
<ellipse cx="157" cy="660" rx="17" ry="17" fill="url(#cg)" opacity="0.3"/>
<ellipse cx="64" cy="621" rx="10" ry="12" fill="url(#cg)" opacity="0.2"/>
<ellipse cx="75" cy="581" rx="14" ry="11" fill="url(#cg)" opacity="0.15"/>
<ellipse cx="92" cy="622" rx="6" ry="8" fill="url(#rgl)" opacity="0.2"/>
<ellipse cx="126" cy="638" rx="10" ry="8" fill="url(#rgl)" opacity="0.25"/>
<ellipse cx="111.6" cy="662.5" rx="7" ry="8" fill="url(#rgl)" opacity="0.25"/>
<g filter="url(#spkC)"><rect x="57.0" y="566.0" width="121.0" height="119.6" fill="#fff" fill-opacity="0.06"/><defs><linearGradient id="lgd2" x1="0" y1="0" x2="0" y2="1"><stop offset="0" stop-color="#fff" stop-opacity="0"/><stop offset="1" stop-color="#fff" stop-opacity="0.4"/></linearGradient></defs><rect x="57" y="597" width="121" height="22" fill="url(#lgd2)"/><rect x="57" y="619" width="121" height="67" fill="#fff" fill-opacity="0.4"/><defs><linearGradient id="lgd3" x1="0" y1="0" x2="1" y2="0"><stop offset="0" stop-color="#fff" stop-opacity="0.34"/><stop offset="1" stop-color="#fff" stop-opacity="0"/></linearGradient></defs><rect x="57" y="566" width="14" height="50" fill="url(#lgd3)"/><defs><linearGradient id="lgd4" x1="0" y1="0" x2="1" y2="0"><stop offset="0" stop-color="#fff" stop-opacity="0"/><stop offset="1" stop-color="#fff" stop-opacity="0.32"/></linearGradient></defs><rect x="164" y="566" width="14" height="50" fill="url(#lgd4)"/><ellipse cx="75" cy="581" rx="14" ry="11" fill="url(#wg)" opacity="0.78"/><ellipse cx="64" cy="621" rx="10" ry="12" fill="url(#wg)" opacity="0.78"/><ellipse cx="92" cy="622" rx="10" ry="11" fill="url(#wg)" opacity="0.7"/><ellipse cx="129" cy="635" rx="19" ry="16" fill="url(#wg)" opacity="0.8"/><ellipse cx="142" cy="631" rx="12" ry="10" fill="url(#wg)" opacity="0.85"/><ellipse cx="111.6" cy="662.5" rx="11" ry="11" fill="url(#wg)" opacity="0.62"/><ellipse cx="157" cy="660" rx="17" ry="17" fill="url(#wg)" opacity="0.9"/><ellipse cx="82" cy="655" rx="12" ry="12" fill="url(#wg)" opacity="0.6"/></g>
<g filter="url(#spkR)"><rect x="57.0" y="566.0" width="121.0" height="119.6" fill="#fff" fill-opacity="0.06"/><defs><linearGradient id="lgd5" x1="0" y1="0" x2="0" y2="1"><stop offset="0" stop-color="#fff" stop-opacity="0"/><stop offset="1" stop-color="#fff" stop-opacity="0.14"/></linearGradient></defs><rect x="57" y="597" width="121" height="22" fill="url(#lgd5)"/><rect x="57" y="619" width="121" height="67" fill="#fff" fill-opacity="0.14"/><defs><linearGradient id="lgd6" x1="0" y1="0" x2="1" y2="0"><stop offset="0" stop-color="#fff" stop-opacity="0"/><stop offset="1" stop-color="#fff" stop-opacity="0.2"/></linearGradient></defs><rect x="164" y="566" width="14" height="50" fill="url(#lgd6)"/><ellipse cx="75" cy="582" rx="8" ry="7" fill="url(#wg)" opacity="0.8"/><ellipse cx="92" cy="622" rx="8" ry="9" fill="url(#wg)" opacity="0.8"/><ellipse cx="126" cy="638" rx="13" ry="11" fill="url(#wg)" opacity="0.78"/><ellipse cx="111.6" cy="662.5" rx="9" ry="10" fill="url(#wg)" opacity="0.8"/></g>
<ellipse cx="80" cy="641" rx="8" ry="8" fill="url(#bk)" opacity="0.8"/>
</g>
<clipPath id="clip11"><rect x="182.3" y="566.0" width="119.7" height="119.6"/></clipPath>
<rect x="182.3" y="566.0" width="119.7" height="119.6" fill="#000"/>
<g clip-path="url(#clip11)">
<ellipse cx="216.5" cy="646" rx="23" ry="19" fill="url(#cg)" opacity="0.32"/>
<ellipse cx="268" cy="598.7" rx="38" ry="18" fill="url(#cg)" opacity="0.15" transform="rotate(-42 268 598.7)"/>
<ellipse cx="282.2" cy="580.4" rx="6" ry="5" fill="url(#rgl)" opacity="0.2"/>
<ellipse cx="269.4" cy="601.4" rx="6" ry="5" fill="url(#rgl)" opacity="0.2"/>
<ellipse cx="251.2" cy="611.4" rx="6" ry="5" fill="url(#rgl)" opacity="0.2"/>
<ellipse cx="216.5" cy="644.3" rx="7" ry="5" fill="url(#rgl)" opacity="0.2"/>
<ellipse cx="276.7" cy="673.5" rx="5" ry="4" fill="url(#rgl)" opacity="0.3"/>
<g filter="url(#spkC)"><rect x="182.3" y="566.0" width="119.7" height="119.6" fill="#fff" fill-opacity="0.14"/><ellipse cx="268" cy="598.7" rx="38" ry="18" fill="url(#wg)" opacity="0.72" transform="rotate(-42 268 598.7)"/><ellipse cx="216.5" cy="646" rx="23" ry="19" fill="url(#wg)" opacity="0.92"/><ellipse cx="240" cy="664" rx="15" ry="11" fill="url(#wg)" opacity="0.6"/><ellipse cx="190" cy="655" rx="8" ry="10" fill="url(#wg)" opacity="0.5"/></g>
<g filter="url(#spkR)"><rect x="182.3" y="566.0" width="119.7" height="119.6" fill="#fff" fill-opacity="0.12"/><ellipse cx="282.2" cy="580.4" rx="8" ry="7" fill="url(#wg)" opacity="0.8"/><ellipse cx="260.3" cy="586.8" rx="8" ry="7" fill="url(#wg)" opacity="0.8"/><ellipse cx="269.4" cy="601.4" rx="8" ry="7" fill="url(#wg)" opacity="0.8"/><ellipse cx="251.2" cy="611.4" rx="8" ry="7" fill="url(#wg)" opacity="0.8"/><ellipse cx="216.5" cy="644.3" rx="9" ry="7" fill="url(#wg)" opacity="0.8"/><ellipse cx="203.7" cy="662.5" rx="8" ry="7" fill="url(#wg)" opacity="0.8"/><ellipse cx="187.3" cy="653.4" rx="5" ry="7" fill="url(#wg)" opacity="0.78"/><ellipse cx="276.7" cy="673.5" rx="7" ry="6" fill="url(#wg)" opacity="0.85"/></g>
</g>
<clipPath id="clip12"><rect x="307.0" y="566.0" width="119.8" height="119.6"/></clipPath>
<rect x="307.0" y="566.0" width="119.8" height="119.6" fill="#000"/>
<g clip-path="url(#clip12)">
</g>
<text x="366.50" y="626.10" font-size="10.4" text-anchor="middle" fill="#eee" >N/A</text>
<clipPath id="clip20"><rect x="57.0" y="689.6" width="121.3" height="119.4"/></clipPath>
<rect x="57.0" y="689.6" width="121.3" height="119.4" fill="#000"/>
<g clip-path="url(#clip20)">
<ellipse cx="82" cy="728" rx="26" ry="29" fill="url(#cg)" opacity="0.55"/>
<ellipse cx="140" cy="708" rx="34" ry="16" fill="url(#cg)" opacity="0.55" transform="rotate(-30 140 708)"/>
<ellipse cx="92" cy="740" rx="12" ry="12" fill="url(#cg)" opacity="0.35"/>
<ellipse cx="108" cy="716" rx="14" ry="10" fill="url(#cg)" opacity="0.3"/>
<ellipse cx="80" cy="705" rx="16" ry="8" fill="url(#rgl)" opacity="0.15"/>
<ellipse cx="133" cy="712" rx="7" ry="12" fill="url(#rgl)" opacity="0.2"/>
<ellipse cx="137" cy="748" rx="5" ry="10" fill="url(#rgl)" opacity="0.15"/>
<g filter="url(#spkC)"><rect x="57.0" y="689.6" width="121.3" height="119.4" fill="#fff" fill-opacity="0.08"/><defs><linearGradient id="lgd7" x1="0" y1="0" x2="0" y2="1"><stop offset="0" stop-color="#fff" stop-opacity="0.14"/><stop offset="1" stop-color="#fff" stop-opacity="0.02"/></linearGradient></defs><rect x="57" y="689.6" width="121" height="119.4" fill="url(#lgd7)"/><ellipse cx="82" cy="728" rx="26" ry="29" fill="url(#wg)" opacity="0.93"/><ellipse cx="140" cy="708" rx="34" ry="16" fill="url(#wg)" opacity="0.95" transform="rotate(-30 140 708)"/><ellipse cx="108" cy="716" rx="16" ry="11" fill="url(#wg)" opacity="0.75"/><ellipse cx="70" cy="752" rx="10" ry="9" fill="url(#wg)" opacity="0.55"/></g>
<g filter="url(#spkR)"><rect x="57.0" y="689.6" width="121.3" height="119.4" fill="#fff" fill-opacity="0.1"/><ellipse cx="80" cy="705" rx="20" ry="11" fill="url(#wg)" opacity="0.7"/><ellipse cx="133" cy="712" rx="9" ry="15" fill="url(#wg)" opacity="0.68"/><ellipse cx="92" cy="742" rx="12" ry="9" fill="url(#wg)" opacity="0.65"/><ellipse cx="137" cy="748" rx="7" ry="13" fill="url(#wg)" opacity="0.72"/><ellipse cx="82.4" cy="797.5" rx="11" ry="7" fill="url(#wg)" opacity="0.7"/><ellipse cx="168.1" cy="764.6" rx="9" ry="7" fill="url(#wg)" opacity="0.66"/><ellipse cx="65" cy="770" rx="8" ry="8" fill="url(#wg)" opacity="0.58"/><ellipse cx="104" cy="724" rx="8" ry="14" fill="url(#wg)" opacity="0.6"/></g>
</g>
<clipPath id="clip21"><rect x="182.3" y="689.6" width="119.7" height="119.4"/></clipPath>
<rect x="182.3" y="689.6" width="119.7" height="119.4" fill="#000"/>
<g clip-path="url(#clip21)">
</g>
<text x="242.10" y="749.30" font-size="10.4" text-anchor="middle" fill="#eee" >N/A</text>
<clipPath id="clip22"><rect x="307.0" y="689.6" width="119.3" height="118.9"/></clipPath>
<rect x="307.0" y="689.6" width="119.3" height="118.9" fill="#000"/>
<g clip-path="url(#clip22)">
<ellipse cx="362" cy="760" rx="26" ry="24" fill="url(#cg)" opacity="0.2"/>
<ellipse cx="409" cy="750" rx="17" ry="19" fill="url(#cg)" opacity="0.28"/>
<ellipse cx="328" cy="790" rx="18" ry="12" fill="url(#cg)" opacity="0.12"/>
<ellipse cx="362" cy="762" rx="18" ry="17" fill="url(#rgl)" opacity="0.3"/>
<ellipse cx="405" cy="750" rx="11" ry="10" fill="url(#rgl)" opacity="0.25"/>
<ellipse cx="328" cy="790" rx="15" ry="10" fill="url(#rgl)" opacity="0.25" transform="rotate(-10 328 790)"/>
<g filter="url(#spkC)"><rect x="312" y="692" width="107" height="111" fill="#fff" fill-opacity="0.2"/><rect x="312" y="692" width="107" height="30" fill="#fff" fill-opacity="0.06"/><ellipse cx="362" cy="760" rx="26" ry="24" fill="url(#wg)" opacity="0.74"/><ellipse cx="409" cy="750" rx="17" ry="19" fill="url(#wg)" opacity="0.8"/><ellipse cx="328" cy="790" rx="19" ry="13" fill="url(#wg)" opacity="0.58"/><ellipse cx="345" cy="778" rx="10" ry="8" fill="url(#wg)" opacity="0.45"/><ellipse cx="384" cy="781" rx="16" ry="8" fill="url(#wg)" opacity="0.4"/></g>
<g filter="url(#spkR)"><rect x="312" y="692" width="107" height="111" fill="#fff" fill-opacity="0.13"/><ellipse cx="362" cy="762" rx="21" ry="20" fill="url(#wg)" opacity="0.74"/><ellipse cx="405" cy="750" rx="13" ry="12" fill="url(#wg)" opacity="0.7"/><ellipse cx="328" cy="790" rx="18" ry="12" fill="url(#wg)" opacity="0.78" transform="rotate(-10 328 790)"/></g>
</g>
<text x="239.1" y="420.7" font-size="15" font-weight="bold" text-anchor="middle">Treatment</text>
<text transform="translate(115.35,436.9) scale(0.91,1)" font-size="11" font-weight="bold" text-anchor="middle">NT</text>
<text transform="translate(239.7,436.8) scale(0.9,1)" font-size="11" font-weight="bold" text-anchor="middle">NAg</text>
<text transform="translate(362.6,437.1) scale(0.88,1)" font-size="11" font-weight="bold">Ag</text>
<path d="M376.4,431.7h3.1M377.95,430.2v3.1" stroke="#000" stroke-width="0.9"/>
<text transform="translate(28.9,625.6) rotate(-90)" font-size="16.6" font-weight="bold" text-anchor="middle" textLength="41.5" lengthAdjust="spacingAndGlyphs">Strain</text>
<text transform="translate(48.1,500) rotate(-90)" font-size="10.6" stroke="#000" stroke-width="0.2" text-anchor="middle">WT</text>
<text transform="translate(48.9,625) rotate(-90)" font-size="10.4" stroke="#000" stroke-width="0.2" text-anchor="middle">NAg<tspan font-size="7" dy="-4">R</tspan></text>
<text transform="translate(48.9,751) rotate(-90)" font-size="10.6" stroke="#000" stroke-width="0.2" text-anchor="middle">Ag<tspan font-size="7" dy="-4">T</tspan></text>
<line x1="490.30" y1="416.40" x2="490.30" y2="561.80" stroke="#222" stroke-width="1.2"/>
<line x1="490.30" y1="561.80" x2="635.80" y2="561.80" stroke="#222" stroke-width="1.2"/>
<line x1="486.70" y1="561.80" x2="490.30" y2="561.80" stroke="#222" stroke-width="1.1"/>
<text x="485.40" y="564.80" font-size="8.3" text-anchor="end" fill="#222" >0</text>
<line x1="486.70" y1="513.33" x2="490.30" y2="513.33" stroke="#222" stroke-width="1.1"/>
<text x="485.40" y="516.33" font-size="8.3" text-anchor="end" fill="#222" >2000</text>
<line x1="486.70" y1="464.87" x2="490.30" y2="464.87" stroke="#222" stroke-width="1.1"/>
<text x="485.40" y="467.87" font-size="8.3" text-anchor="end" fill="#222" >4000</text>
<line x1="486.70" y1="416.40" x2="490.30" y2="416.40" stroke="#222" stroke-width="1.1"/>
<text x="485.40" y="419.40" font-size="8.3" text-anchor="end" fill="#222" >6000</text>
<line x1="488.30" y1="545.64" x2="490.30" y2="545.64" stroke="#222" stroke-width="1.0"/>
<line x1="488.30" y1="529.49" x2="490.30" y2="529.49" stroke="#222" stroke-width="1.0"/>
<line x1="488.30" y1="497.18" x2="490.30" y2="497.18" stroke="#222" stroke-width="1.0"/>
<line x1="488.30" y1="481.02" x2="490.30" y2="481.02" stroke="#222" stroke-width="1.0"/>
<line x1="488.30" y1="448.71" x2="490.30" y2="448.71" stroke="#222" stroke-width="1.0"/>
<line x1="488.30" y1="432.56" x2="490.30" y2="432.56" stroke="#222" stroke-width="1.0"/>
<line x1="503.00" y1="561.80" x2="503.00" y2="564.60" stroke="#222" stroke-width="1.1"/>
<line x1="522.84" y1="561.80" x2="522.84" y2="564.60" stroke="#222" stroke-width="1.1"/>
<line x1="542.68" y1="561.80" x2="542.68" y2="564.60" stroke="#222" stroke-width="1.1"/>
<line x1="562.52" y1="561.80" x2="562.52" y2="564.60" stroke="#222" stroke-width="1.1"/>
<line x1="582.36" y1="561.80" x2="582.36" y2="564.60" stroke="#222" stroke-width="1.1"/>
<line x1="602.20" y1="561.80" x2="602.20" y2="564.60" stroke="#222" stroke-width="1.1"/>
<line x1="622.04" y1="561.80" x2="622.04" y2="564.60" stroke="#222" stroke-width="1.1"/>
<circle cx="503.1" cy="529.9" r="1.25"/>
<circle cx="502.3" cy="534.6" r="1.25"/>
<circle cx="505.2" cy="535.2" r="1.25"/>
<circle cx="506.6" cy="535.8" r="1.25"/>
<circle cx="498.1" cy="536.5" r="1.25"/>
<circle cx="500.0" cy="536.3" r="1.25"/>
<circle cx="501.9" cy="537.1" r="1.25"/>
<circle cx="508.0" cy="538.2" r="1.25"/>
<circle cx="502.8" cy="538.4" r="1.25"/>
<circle cx="498.5" cy="543.9" r="1.25"/>
<circle cx="500.9" cy="543.9" r="1.25"/>
<circle cx="506.1" cy="543.9" r="1.25"/>
<circle cx="507.6" cy="543.9" r="1.25"/>
<circle cx="504.2" cy="546.8" r="1.25"/>
<circle cx="500.0" cy="548.2" r="1.25"/>
<circle cx="501.9" cy="549.1" r="1.25"/>
<circle cx="503.8" cy="550.5" r="1.25"/>
<circle cx="506.1" cy="550.8" r="1.25"/>
<circle cx="500.0" cy="551.7" r="1.25"/>
<circle cx="504.5" cy="541.0" r="1.25"/>
<circle cx="522.7" cy="518.3" r="1.25"/>
<circle cx="518.0" cy="531.8" r="1.25"/>
<circle cx="521.3" cy="533.0" r="1.25"/>
<circle cx="524.6" cy="531.8" r="1.25"/>
<circle cx="524.6" cy="535.2" r="1.25"/>
<circle cx="521.3" cy="536.8" r="1.25"/>
<circle cx="521.3" cy="540.9" r="1.25"/>
<circle cx="524.6" cy="542.0" r="1.25"/>
<circle cx="518.0" cy="543.7" r="1.25"/>
<circle cx="528.0" cy="543.9" r="1.25"/>
<circle cx="524.6" cy="546.5" r="1.25"/>
<circle cx="518.0" cy="549.6" r="1.25"/>
<circle cx="521.3" cy="551.0" r="1.25"/>
<circle cx="528.0" cy="550.4" r="1.25"/>
<circle cx="524.6" cy="552.4" r="1.25"/>
<circle cx="522.7" cy="558.0" r="1.25"/>
<circle cx="539.3" cy="541.8" r="1.25"/>
<circle cx="543.1" cy="543.0" r="1.25"/>
<circle cx="545.0" cy="541.5" r="1.25"/>
<circle cx="546.5" cy="540.9" r="1.25"/>
<circle cx="546.5" cy="544.7" r="1.25"/>
<circle cx="539.3" cy="548.2" r="1.25"/>
<circle cx="541.2" cy="548.2" r="1.25"/>
<circle cx="547.0" cy="547.9" r="1.25"/>
<circle cx="539.3" cy="551.0" r="1.25"/>
<circle cx="543.1" cy="551.5" r="1.25"/>
<circle cx="545.0" cy="550.5" r="1.25"/>
<circle cx="547.0" cy="550.4" r="1.25"/>
<circle cx="544.6" cy="552.4" r="1.25"/>
<circle cx="541.2" cy="554.3" r="1.25"/>
<circle cx="543.6" cy="553.4" r="1.25"/>
<circle cx="542.5" cy="546.5" r="1.25"/>
<circle cx="548.5" cy="549.0" r="1.25"/>
<circle cx="557.4" cy="482.7" r="1.25"/>
<circle cx="560.9" cy="484.3" r="1.25"/>
<circle cx="567.6" cy="483.5" r="1.25"/>
<circle cx="562.4" cy="494.9" r="1.25"/>
<circle cx="562.4" cy="498.4" r="1.25"/>
<circle cx="562.4" cy="503.9" r="1.25"/>
<circle cx="557.4" cy="507.9" r="1.25"/>
<circle cx="560.9" cy="509.8" r="1.25"/>
<circle cx="564.3" cy="509.8" r="1.25"/>
<circle cx="568.0" cy="509.2" r="1.25"/>
<circle cx="562.4" cy="516.2" r="1.25"/>
<circle cx="564.3" cy="519.7" r="1.25"/>
<circle cx="560.9" cy="522.8" r="1.25"/>
<circle cx="564.3" cy="524.7" r="1.25"/>
<circle cx="560.9" cy="532.1" r="1.25"/>
<circle cx="564.3" cy="533.1" r="1.25"/>
<circle cx="567.6" cy="531.5" r="1.25"/>
<circle cx="562.4" cy="538.6" r="1.25"/>
<circle cx="582.4" cy="427.7" r="1.25"/>
<circle cx="582.4" cy="479.5" r="1.25"/>
<circle cx="582.5" cy="489.9" r="1.25"/>
<circle cx="582.5" cy="501.7" r="1.25"/>
<circle cx="582.5" cy="507.5" r="1.25"/>
<circle cx="579.8" cy="514.7" r="1.25"/>
<circle cx="582.9" cy="514.1" r="1.25"/>
<circle cx="585.4" cy="516.0" r="1.25"/>
<circle cx="586.0" cy="517.9" r="1.25"/>
<circle cx="582.3" cy="518.5" r="1.25"/>
<circle cx="579.8" cy="519.7" r="1.25"/>
<circle cx="577.9" cy="522.2" r="1.25"/>
<circle cx="581.0" cy="522.8" r="1.25"/>
<circle cx="584.1" cy="523.2" r="1.25"/>
<circle cx="587.2" cy="521.6" r="1.25"/>
<circle cx="584.7" cy="520.3" r="1.25"/>
<circle cx="582.5" cy="532.7" r="1.25"/>
<circle cx="602.4" cy="451.0" r="1.25"/>
<circle cx="602.4" cy="463.2" r="1.25"/>
<circle cx="602.4" cy="466.7" r="1.25"/>
<circle cx="602.4" cy="470.8" r="1.25"/>
<circle cx="597.2" cy="482.5" r="1.25"/>
<circle cx="602.1" cy="481.9" r="1.25"/>
<circle cx="602.1" cy="485.2" r="1.25"/>
<circle cx="607.3" cy="484.0" r="1.25"/>
<circle cx="602.1" cy="493.0" r="1.25"/>
<circle cx="597.2" cy="502.0" r="1.25"/>
<circle cx="602.1" cy="504.6" r="1.25"/>
<circle cx="607.3" cy="503.1" r="1.25"/>
<circle cx="602.1" cy="509.4" r="1.25"/>
<circle cx="602.1" cy="516.2" r="1.25"/>
<circle cx="597.2" cy="525.9" r="1.25"/>
<circle cx="607.3" cy="524.9" r="1.25"/>
<circle cx="602.1" cy="527.2" r="1.25"/>
<circle cx="602.1" cy="531.1" r="1.25"/>
<circle cx="602.1" cy="538.6" r="1.25"/>
<circle cx="602.1" cy="543.0" r="1.25"/>
<circle cx="622.0" cy="481.5" r="1.25"/>
<circle cx="622.0" cy="488.1" r="1.25"/>
<circle cx="622.0" cy="495.5" r="1.25"/>
<circle cx="617.0" cy="510.4" r="1.25"/>
<circle cx="620.7" cy="512.9" r="1.25"/>
<circle cx="624.2" cy="511.3" r="1.25"/>
<circle cx="624.0" cy="515.8" r="1.25"/>
<circle cx="620.7" cy="518.5" r="1.25"/>
<circle cx="624.2" cy="522.2" r="1.25"/>
<circle cx="617.0" cy="524.4" r="1.25"/>
<circle cx="620.7" cy="524.9" r="1.25"/>
<circle cx="624.2" cy="526.2" r="1.25"/>
<circle cx="617.0" cy="530.3" r="1.25"/>
<circle cx="620.7" cy="531.1" r="1.25"/>
<circle cx="624.2" cy="530.9" r="1.25"/>
<circle cx="627.5" cy="531.1" r="1.25"/>
<circle cx="622.0" cy="534.6" r="1.25"/>
<line x1="494.8" y1="542.3" x2="511.2" y2="542.3" stroke="#e8262a" stroke-width="1.6"/>
<line x1="514.6" y1="541.3" x2="531.0" y2="541.3" stroke="#e8262a" stroke-width="1.6"/>
<line x1="534.5" y1="547.7" x2="550.9" y2="547.7" stroke="#e8262a" stroke-width="1.6"/>
<line x1="554.3" y1="511.3" x2="570.7" y2="511.3" stroke="#e8262a" stroke-width="1.6"/>
<line x1="574.2" y1="510.4" x2="590.6" y2="510.4" stroke="#e8262a" stroke-width="1.6"/>
<line x1="594.0" y1="500.1" x2="610.4" y2="500.1" stroke="#e8262a" stroke-width="1.6"/>
<line x1="613.8" y1="517.0" x2="630.2" y2="517.0" stroke="#e8262a" stroke-width="1.6"/>
<path d="M500.9,411.1 V406.7 H602.6 V411.1" fill="none" stroke="#2a2a2a" stroke-width="1.25"/>
<path d="M543.70,399.55L543.70,402.65M542.36,400.32L545.04,401.87M545.04,400.32L542.36,401.87" stroke="#000" stroke-width="1.25" stroke-linecap="round"/>
<path d="M549.10,399.55L549.10,402.65M547.76,400.32L550.44,401.87M550.44,400.32L547.76,401.87" stroke="#000" stroke-width="1.25" stroke-linecap="round"/>
<path d="M554.50,399.55L554.50,402.65M553.16,400.32L555.84,401.87M555.84,400.32L553.16,401.87" stroke="#000" stroke-width="1.25" stroke-linecap="round"/>
<path d="M559.90,399.55L559.90,402.65M558.56,400.32L561.24,401.87M561.24,400.32L558.56,401.87" stroke="#000" stroke-width="1.25" stroke-linecap="round"/>
<path d="M542.8,424.6 V420.2 H622.4 V424.6" fill="none" stroke="#2a2a2a" stroke-width="1.25"/>
<path d="M574.40,413.05L574.40,416.15M573.06,413.82L575.74,415.37M575.74,413.82L573.06,415.37" stroke="#000" stroke-width="1.25" stroke-linecap="round"/>
<path d="M579.80,413.05L579.80,416.15M578.46,413.82L581.14,415.37M581.14,413.82L578.46,415.37" stroke="#000" stroke-width="1.25" stroke-linecap="round"/>
<path d="M585.20,413.05L585.20,416.15M583.86,413.82L586.54,415.37M586.54,413.82L583.86,415.37" stroke="#000" stroke-width="1.25" stroke-linecap="round"/>
<path d="M590.60,413.05L590.60,416.15M589.26,413.82L591.94,415.37M591.94,413.82L589.26,415.37" stroke="#000" stroke-width="1.25" stroke-linecap="round"/>
<path d="M520.6,456.4 V452.0 H582.4 V456.4" fill="none" stroke="#2a2a2a" stroke-width="1.25"/>
<path d="M543.50,444.85L543.50,447.95M542.16,445.62L544.84,447.17M544.84,445.62L542.16,447.17" stroke="#000" stroke-width="1.25" stroke-linecap="round"/>
<path d="M548.90,444.85L548.90,447.95M547.56,445.62L550.24,447.17M550.24,445.62L547.56,447.17" stroke="#000" stroke-width="1.25" stroke-linecap="round"/>
<path d="M554.30,444.85L554.30,447.95M552.96,445.62L555.64,447.17M555.64,445.62L552.96,447.17" stroke="#000" stroke-width="1.25" stroke-linecap="round"/>
<path d="M559.70,444.85L559.70,447.95M558.36,445.62L561.04,447.17M561.04,445.62L558.36,447.17" stroke="#000" stroke-width="1.25" stroke-linecap="round"/>
<path d="M500.9,470.9 V466.5 H562.3 V470.9" fill="none" stroke="#2a2a2a" stroke-width="1.25"/>
<path d="M523.80,459.35L523.80,462.45M522.46,460.12L525.14,461.67M525.14,460.12L522.46,461.67" stroke="#000" stroke-width="1.25" stroke-linecap="round"/>
<path d="M529.20,459.35L529.20,462.45M527.86,460.12L530.54,461.67M530.54,460.12L527.86,461.67" stroke="#000" stroke-width="1.25" stroke-linecap="round"/>
<path d="M534.60,459.35L534.60,462.45M533.26,460.12L535.94,461.67M535.94,460.12L533.26,461.67" stroke="#000" stroke-width="1.25" stroke-linecap="round"/>
<path d="M540.00,459.35L540.00,462.45M538.66,460.12L541.34,461.67M541.34,460.12L538.66,461.67" stroke="#000" stroke-width="1.25" stroke-linecap="round"/>
<text transform="translate(462.20,481.90) rotate(-90)" font-size="10.6" font-weight="bold" text-anchor="middle" textLength="125.6" lengthAdjust="spacingAndGlyphs">Colony biomass (µm<tspan font-size="7" dy="-4">3</tspan><tspan dy="4">/µm</tspan><tspan font-size="7" dy="-4">2</tspan><tspan dy="4">)</tspan></text>
<text transform="translate(506.00,571.50) rotate(-45)" font-size="8.9" text-anchor="end"><tspan font-weight="bold">WT</tspan> (NT)</text>
<text transform="translate(525.84,571.50) rotate(-45)" font-size="8.9" text-anchor="end"><tspan font-weight="bold">WT</tspan> (NAg)</text>
<text transform="translate(545.68,571.50) rotate(-45)" font-size="8.9" text-anchor="end"><tspan font-weight="bold">WT</tspan> (Ag<tspan font-size="6.23" dy="-4.00">+</tspan><tspan dy="4.00">)</tspan></text>
<text transform="translate(565.52,571.50) rotate(-45)" font-size="8.9" text-anchor="end"><tspan font-weight="bold">NAg</tspan><tspan font-weight="bold" font-size="6.41" dy="-4.45">R</tspan><tspan dy="4.45"> </tspan>(NT)</text>
<text transform="translate(585.36,571.50) rotate(-45)" font-size="8.9" text-anchor="end"><tspan font-weight="bold">NAg</tspan><tspan font-weight="bold" font-size="6.41" dy="-4.45">R</tspan><tspan dy="4.45"> </tspan>(NAg)</text>
<text transform="translate(605.20,571.50) rotate(-45)" font-size="8.9" text-anchor="end"><tspan font-weight="bold">Ag</tspan><tspan font-weight="bold" font-size="6.41" dy="-4.45">T</tspan><tspan dy="4.45"> </tspan>(NT)</text>
<text transform="translate(625.04,571.50) rotate(-45)" font-size="8.9" text-anchor="end"><tspan font-weight="bold">Ag</tspan><tspan font-weight="bold" font-size="6.41" dy="-4.45">T</tspan><tspan dy="4.45"> </tspan>(Ag<tspan font-size="6.23" dy="-4.00">+</tspan><tspan dy="4.00">)</tspan></text>
<text x="563.55" y="619.00" font-size="10.8" font-weight="bold" text-anchor="middle" textLength="106.3" lengthAdjust="spacingAndGlyphs">Strain and Treatment</text>
<line x1="494.60" y1="677.70" x2="494.60" y2="830.70" stroke="#222" stroke-width="1.2"/>
<line x1="494.60" y1="830.70" x2="647.50" y2="830.70" stroke="#222" stroke-width="1.2"/>
<line x1="491.00" y1="830.70" x2="494.60" y2="830.70" stroke="#222" stroke-width="1.1"/>
<text x="490.40" y="833.70" font-size="8.5" text-anchor="end" fill="#222" >0</text>
<line x1="491.00" y1="800.10" x2="494.60" y2="800.10" stroke="#222" stroke-width="1.1"/>
<text x="490.40" y="803.10" font-size="8.5" text-anchor="end" fill="#222" >1000</text>
<line x1="491.00" y1="769.50" x2="494.60" y2="769.50" stroke="#222" stroke-width="1.1"/>
<text x="490.40" y="772.50" font-size="8.5" text-anchor="end" fill="#222" >2000</text>
<line x1="491.00" y1="738.90" x2="494.60" y2="738.90" stroke="#222" stroke-width="1.1"/>
<text x="490.40" y="741.90" font-size="8.5" text-anchor="end" fill="#222" >3000</text>
<line x1="491.00" y1="708.30" x2="494.60" y2="708.30" stroke="#222" stroke-width="1.1"/>
<text x="490.40" y="711.30" font-size="8.5" text-anchor="end" fill="#222" >4000</text>
<line x1="491.00" y1="677.70" x2="494.60" y2="677.70" stroke="#222" stroke-width="1.1"/>
<text x="490.40" y="680.70" font-size="8.5" text-anchor="end" fill="#222" >5000</text>
<line x1="492.60" y1="815.40" x2="494.60" y2="815.40" stroke="#222" stroke-width="1.0"/>
<line x1="492.60" y1="784.80" x2="494.60" y2="784.80" stroke="#222" stroke-width="1.0"/>
<line x1="492.60" y1="754.20" x2="494.60" y2="754.20" stroke="#222" stroke-width="1.0"/>
<line x1="492.60" y1="723.60" x2="494.60" y2="723.60" stroke="#222" stroke-width="1.0"/>
<line x1="492.60" y1="693.00" x2="494.60" y2="693.00" stroke="#222" stroke-width="1.0"/>
<line x1="508.80" y1="830.70" x2="508.80" y2="833.50" stroke="#222" stroke-width="1.1"/>
<line x1="529.62" y1="830.70" x2="529.62" y2="833.50" stroke="#222" stroke-width="1.1"/>
<line x1="550.44" y1="830.70" x2="550.44" y2="833.50" stroke="#222" stroke-width="1.1"/>
<line x1="571.26" y1="830.70" x2="571.26" y2="833.50" stroke="#222" stroke-width="1.1"/>
<line x1="592.08" y1="830.70" x2="592.08" y2="833.50" stroke="#222" stroke-width="1.1"/>
<line x1="612.90" y1="830.70" x2="612.90" y2="833.50" stroke="#222" stroke-width="1.1"/>
<line x1="633.72" y1="830.70" x2="633.72" y2="833.50" stroke="#222" stroke-width="1.1"/>
<circle cx="509.8" cy="766.6" r="1.58"/>
<circle cx="507.3" cy="769.7" r="1.58"/>
<circle cx="509.8" cy="772.3" r="1.58"/>
<circle cx="508.3" cy="793.2" r="1.58"/>
<circle cx="508.3" cy="796.8" r="1.58"/>
<circle cx="508.3" cy="800.1" r="1.58"/>
<circle cx="505.2" cy="806.5" r="1.58"/>
<circle cx="509.8" cy="807.2" r="1.58"/>
<circle cx="511.9" cy="806.8" r="1.58"/>
<circle cx="502.7" cy="815.2" r="1.58"/>
<circle cx="505.2" cy="815.7" r="1.58"/>
<circle cx="508.3" cy="815.7" r="1.58"/>
<circle cx="510.8" cy="813.6" r="1.58"/>
<circle cx="512.4" cy="812.6" r="1.58"/>
<circle cx="510.3" cy="816.7" r="1.58"/>
<circle cx="513.9" cy="815.9" r="1.58"/>
<circle cx="507.3" cy="820.8" r="1.58"/>
<circle cx="509.5" cy="817.5" r="1.58"/>
<circle cx="502.0" cy="812.0" r="1.58"/>
<circle cx="529.5" cy="781.3" r="1.58"/>
<circle cx="529.5" cy="787.6" r="1.58"/>
<circle cx="529.5" cy="801.4" r="1.58"/>
<circle cx="529.5" cy="805.5" r="1.58"/>
<circle cx="526.7" cy="809.1" r="1.58"/>
<circle cx="532.3" cy="810.1" r="1.58"/>
<circle cx="534.9" cy="812.1" r="1.58"/>
<circle cx="524.1" cy="813.1" r="1.58"/>
<circle cx="527.2" cy="814.2" r="1.58"/>
<circle cx="530.3" cy="814.2" r="1.58"/>
<circle cx="532.8" cy="815.2" r="1.58"/>
<circle cx="526.7" cy="818.8" r="1.58"/>
<circle cx="532.3" cy="818.3" r="1.58"/>
<circle cx="528.7" cy="821.3" r="1.58"/>
<circle cx="531.8" cy="821.8" r="1.58"/>
<circle cx="526.7" cy="823.9" r="1.58"/>
<circle cx="534.0" cy="808.5" r="1.58"/>
<circle cx="550.2" cy="793.2" r="1.58"/>
<circle cx="550.2" cy="798.3" r="1.58"/>
<circle cx="551.7" cy="805.5" r="1.58"/>
<circle cx="548.1" cy="807.0" r="1.58"/>
<circle cx="546.1" cy="808.0" r="1.58"/>
<circle cx="549.2" cy="808.0" r="1.58"/>
<circle cx="544.6" cy="811.6" r="1.58"/>
<circle cx="547.6" cy="811.6" r="1.58"/>
<circle cx="550.7" cy="812.1" r="1.58"/>
<circle cx="555.3" cy="811.1" r="1.58"/>
<circle cx="548.1" cy="814.2" r="1.58"/>
<circle cx="551.2" cy="814.2" r="1.58"/>
<circle cx="550.2" cy="819.5" r="1.58"/>
<circle cx="553.5" cy="810.0" r="1.58"/>
<circle cx="569.2" cy="756.4" r="1.58"/>
<circle cx="572.7" cy="755.7" r="1.58"/>
<circle cx="565.5" cy="762.9" r="1.58"/>
<circle cx="569.2" cy="765.5" r="1.58"/>
<circle cx="572.7" cy="765.5" r="1.58"/>
<circle cx="576.3" cy="765.9" r="1.58"/>
<circle cx="571.0" cy="774.7" r="1.58"/>
<circle cx="565.5" cy="782.6" r="1.58"/>
<circle cx="569.2" cy="782.3" r="1.58"/>
<circle cx="572.7" cy="783.4" r="1.58"/>
<circle cx="576.3" cy="783.0" r="1.58"/>
<circle cx="569.2" cy="787.6" r="1.58"/>
<circle cx="572.7" cy="787.6" r="1.58"/>
<circle cx="571.0" cy="794.2" r="1.58"/>
<circle cx="565.5" cy="797.7" r="1.58"/>
<circle cx="576.3" cy="797.7" r="1.58"/>
<circle cx="569.2" cy="801.4" r="1.58"/>
<circle cx="572.7" cy="801.0" r="1.58"/>
<circle cx="591.8" cy="751.1" r="1.58"/>
<circle cx="588.9" cy="767.6" r="1.58"/>
<circle cx="592.0" cy="770.2" r="1.58"/>
<circle cx="588.9" cy="775.5" r="1.58"/>
<circle cx="594.4" cy="775.1" r="1.58"/>
<circle cx="592.0" cy="778.1" r="1.58"/>
<circle cx="592.0" cy="782.1" r="1.58"/>
<circle cx="588.9" cy="785.6" r="1.58"/>
<circle cx="594.4" cy="785.0" r="1.58"/>
<circle cx="586.5" cy="787.6" r="1.58"/>
<circle cx="589.8" cy="787.3" r="1.58"/>
<circle cx="597.3" cy="787.6" r="1.58"/>
<circle cx="594.4" cy="789.2" r="1.58"/>
<circle cx="592.4" cy="789.6" r="1.58"/>
<circle cx="586.5" cy="791.9" r="1.58"/>
<circle cx="589.8" cy="792.2" r="1.58"/>
<circle cx="594.4" cy="791.5" r="1.58"/>
<circle cx="597.3" cy="792.8" r="1.58"/>
<circle cx="588.9" cy="796.1" r="1.58"/>
<circle cx="594.4" cy="794.8" r="1.58"/>
<circle cx="612.5" cy="693.7" r="1.58"/>
<circle cx="612.5" cy="700.1" r="1.58"/>
<circle cx="612.5" cy="741.0" r="1.58"/>
<circle cx="612.5" cy="752.7" r="1.58"/>
<circle cx="612.5" cy="757.7" r="1.58"/>
<circle cx="610.8" cy="762.7" r="1.58"/>
<circle cx="614.4" cy="762.3" r="1.58"/>
<circle cx="612.5" cy="767.1" r="1.58"/>
<circle cx="610.8" cy="773.8" r="1.58"/>
<circle cx="614.4" cy="773.5" r="1.58"/>
<circle cx="610.8" cy="780.8" r="1.58"/>
<circle cx="607.6" cy="784.3" r="1.58"/>
<circle cx="618.1" cy="782.6" r="1.58"/>
<circle cx="610.8" cy="786.3" r="1.58"/>
<circle cx="614.4" cy="787.6" r="1.58"/>
<circle cx="618.1" cy="786.7" r="1.58"/>
<circle cx="607.6" cy="788.9" r="1.58"/>
<circle cx="614.4" cy="791.1" r="1.58"/>
<circle cx="610.8" cy="792.2" r="1.58"/>
<circle cx="612.5" cy="797.4" r="1.58"/>
<circle cx="612.5" cy="802.3" r="1.58"/>
<circle cx="628.2" cy="741.6" r="1.58"/>
<circle cx="633.4" cy="742.6" r="1.58"/>
<circle cx="638.7" cy="741.9" r="1.58"/>
<circle cx="630.8" cy="756.4" r="1.58"/>
<circle cx="636.1" cy="756.4" r="1.58"/>
<circle cx="628.2" cy="760.3" r="1.58"/>
<circle cx="633.4" cy="762.0" r="1.58"/>
<circle cx="638.7" cy="760.3" r="1.58"/>
<circle cx="628.2" cy="770.1" r="1.58"/>
<circle cx="633.4" cy="767.5" r="1.58"/>
<circle cx="638.7" cy="771.7" r="1.58"/>
<circle cx="633.4" cy="773.5" r="1.58"/>
<circle cx="630.8" cy="781.3" r="1.58"/>
<circle cx="636.1" cy="779.1" r="1.58"/>
<circle cx="633.4" cy="785.0" r="1.58"/>
<circle cx="633.4" cy="791.5" r="1.58"/>
<circle cx="635.5" cy="778.7" r="1.58"/>
<circle cx="628.1" cy="766.2" r="1.58"/>
<line x1="500.6" y1="803.4" x2="517.0" y2="803.4" stroke="#e8262a" stroke-width="1.6"/>
<line x1="521.4" y1="810.4" x2="537.8" y2="810.4" stroke="#e8262a" stroke-width="1.6"/>
<line x1="542.2" y1="809.3" x2="558.6" y2="809.3" stroke="#e8262a" stroke-width="1.6"/>
<line x1="563.1" y1="780.1" x2="579.5" y2="780.1" stroke="#e8262a" stroke-width="1.6"/>
<line x1="583.9" y1="783.4" x2="600.3" y2="783.4" stroke="#e8262a" stroke-width="1.6"/>
<line x1="604.7" y1="769.8" x2="621.1" y2="769.8" stroke="#e8262a" stroke-width="1.6"/>
<line x1="625.5" y1="765.3" x2="641.9" y2="765.3" stroke="#e8262a" stroke-width="1.6"/>
<path d="M548.4,660.7 V656.3 H631.4 V660.7" fill="none" stroke="#2a2a2a" stroke-width="1.25"/>
<path d="M582.30,649.15L582.30,652.25M580.96,649.92L583.64,651.47M583.64,649.92L580.96,651.47" stroke="#000" stroke-width="1.25" stroke-linecap="round"/>
<path d="M587.70,649.15L587.70,652.25M586.36,649.92L589.04,651.47M589.04,649.92L586.36,651.47" stroke="#000" stroke-width="1.25" stroke-linecap="round"/>
<path d="M593.10,649.15L593.10,652.25M591.76,649.92L594.44,651.47M594.44,649.92L591.76,651.47" stroke="#000" stroke-width="1.25" stroke-linecap="round"/>
<path d="M598.50,649.15L598.50,652.25M597.16,649.92L599.84,651.47M599.84,649.92L597.16,651.47" stroke="#000" stroke-width="1.25" stroke-linecap="round"/>
<path d="M508.2,676.1 V671.7 H612.8 V676.1" fill="none" stroke="#2a2a2a" stroke-width="1.25"/>
<path d="M552.50,664.55L552.50,667.65M551.16,665.33L553.84,666.88M553.84,665.33L551.16,666.88" stroke="#000" stroke-width="1.25" stroke-linecap="round"/>
<path d="M557.90,664.55L557.90,667.65M556.56,665.33L559.24,666.88M559.24,665.33L556.56,666.88" stroke="#000" stroke-width="1.25" stroke-linecap="round"/>
<path d="M563.30,664.55L563.30,667.65M561.96,665.33L564.64,666.88M564.64,665.33L561.96,666.88" stroke="#000" stroke-width="1.25" stroke-linecap="round"/>
<path d="M568.70,664.55L568.70,667.65M567.36,665.33L570.04,666.88M570.04,665.33L567.36,666.88" stroke="#000" stroke-width="1.25" stroke-linecap="round"/>
<path d="M591.6,690.7 V686.3 H633.5 V690.7" fill="none" stroke="#2a2a2a" stroke-width="1.25"/>
<path d="M607.10,679.15L607.10,682.25M605.76,679.92L608.44,681.47M608.44,679.92L605.76,681.47" stroke="#000" stroke-width="1.25" stroke-linecap="round"/>
<path d="M612.50,679.15L612.50,682.25M611.16,679.92L613.84,681.47M613.84,679.92L611.16,681.47" stroke="#000" stroke-width="1.25" stroke-linecap="round"/>
<path d="M617.90,679.15L617.90,682.25M616.56,679.92L619.24,681.47M619.24,679.92L616.56,681.47" stroke="#000" stroke-width="1.25" stroke-linecap="round"/>
<path d="M509.0,727.1 V722.7 H570.5 V727.1" fill="none" stroke="#2a2a2a" stroke-width="1.25"/>
<path d="M531.50,715.55L531.50,718.65M530.16,716.33L532.84,717.88M532.84,716.33L530.16,717.88" stroke="#000" stroke-width="1.25" stroke-linecap="round"/>
<path d="M536.90,715.55L536.90,718.65M535.56,716.33L538.24,717.88M538.24,716.33L535.56,717.88" stroke="#000" stroke-width="1.25" stroke-linecap="round"/>
<path d="M542.30,715.55L542.30,718.65M540.96,716.33L543.64,717.88M543.64,716.33L540.96,717.88" stroke="#000" stroke-width="1.25" stroke-linecap="round"/>
<path d="M547.70,715.55L547.70,718.65M546.36,716.33L549.04,717.88M549.04,716.33L546.36,717.88" stroke="#000" stroke-width="1.25" stroke-linecap="round"/>
<path d="M528.6,741.4 V737.0 H591.4 V741.4" fill="none" stroke="#2a2a2a" stroke-width="1.25"/>
<path d="M552.50,729.85L552.50,732.95M551.16,730.62L553.84,732.17M553.84,730.62L551.16,732.17" stroke="#000" stroke-width="1.25" stroke-linecap="round"/>
<path d="M557.90,729.85L557.90,732.95M556.56,730.62L559.24,732.17M559.24,730.62L556.56,732.17" stroke="#000" stroke-width="1.25" stroke-linecap="round"/>
<path d="M563.30,729.85L563.30,732.95M561.96,730.62L564.64,732.17M564.64,730.62L561.96,732.17" stroke="#000" stroke-width="1.25" stroke-linecap="round"/>
<path d="M568.70,729.85L568.70,732.95M567.36,730.62L570.04,732.17M570.04,730.62L567.36,732.17" stroke="#000" stroke-width="1.25" stroke-linecap="round"/>
<text transform="translate(465.80,752.50) rotate(-90)" font-size="10.6" font-weight="bold" text-anchor="middle" textLength="124.6" lengthAdjust="spacingAndGlyphs">EPS biomass (µm<tspan font-size="7" dy="-4">3</tspan><tspan dy="4">/µm</tspan><tspan font-size="7" dy="-4">2</tspan><tspan dy="4">)</tspan></text>
<text transform="translate(511.80,840.10) rotate(-45)" font-size="8.9" text-anchor="end"><tspan font-weight="bold">WT</tspan> (NT)</text>
<text transform="translate(532.62,840.10) rotate(-45)" font-size="8.9" text-anchor="end"><tspan font-weight="bold">WT</tspan> (NAg)</text>
<text transform="translate(553.44,840.10) rotate(-45)" font-size="8.9" text-anchor="end"><tspan font-weight="bold">WT</tspan> (Ag<tspan font-size="6.23" dy="-4.00">+</tspan><tspan dy="4.00">)</tspan></text>
<text transform="translate(574.26,840.10) rotate(-45)" font-size="8.9" text-anchor="end"><tspan font-weight="bold">NAg</tspan><tspan font-weight="bold" font-size="6.41" dy="-4.45">R</tspan><tspan dy="4.45"> </tspan>(NT)</text>
<text transform="translate(595.08,840.10) rotate(-45)" font-size="8.9" text-anchor="end"><tspan font-weight="bold">NAg</tspan><tspan font-weight="bold" font-size="6.41" dy="-4.45">R</tspan><tspan dy="4.45"> </tspan>(NAg)</text>
<text transform="translate(615.90,840.10) rotate(-45)" font-size="8.9" text-anchor="end"><tspan font-weight="bold">Ag</tspan><tspan font-weight="bold" font-size="6.41" dy="-4.45">T</tspan><tspan dy="4.45"> </tspan>(NT)</text>
<text transform="translate(636.72,840.10) rotate(-45)" font-size="8.9" text-anchor="end"><tspan font-weight="bold">Ag</tspan><tspan font-weight="bold" font-size="6.41" dy="-4.45">T</tspan><tspan dy="4.45"> </tspan>(Ag<tspan font-size="6.23" dy="-4.00">+</tspan><tspan dy="4.00">)</tspan></text>
<text x="571.55" y="888.50" font-size="10.8" font-weight="bold" text-anchor="middle" textLength="108.7" lengthAdjust="spacingAndGlyphs">Strain and Treatment</text>
</svg></body></html>
